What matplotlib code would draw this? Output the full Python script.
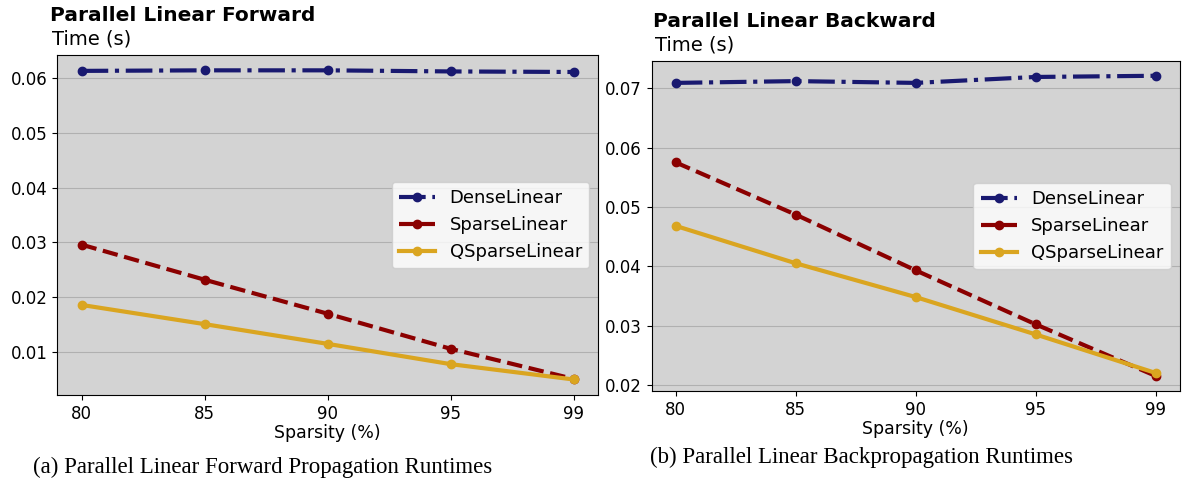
import matplotlib.pyplot as plt

sparsity = ['80', '85', '90', '95', '99']

fwd_dense = [0.0613, 0.0614, 0.0614, 0.0612, 0.0611]
fwd_sparse = [0.0296, 0.0232, 0.0170, 0.0106, 0.0051]
fwd_qsparse = [0.0186, 0.0151, 0.0115, 0.0078, 0.0050]

bwd_dense = [0.0709, 0.0712, 0.0709, 0.0719, 0.0721]
bwd_sparse = [0.0575, 0.0487, 0.0393, 0.0302, 0.0215]
bwd_qsparse = [0.0468, 0.0405, 0.0348, 0.0285, 0.0220]

fig = plt.figure(figsize=(11.87, 4.9), dpi=100)
ax1 = fig.add_axes([0.048, 0.194, 0.456, 0.694])
ax2 = fig.add_axes([0.549, 0.202, 0.445, 0.674])


def draw(ax, dense, sparse, qsparse, title, caption, cx, cy, tdx):
    x = range(len(sparsity))
    ax.set_facecolor('lightgrey')
    ax.grid(axis='y', color='#b0b0b0', linewidth=0.8)
    ax.set_axisbelow(True)
    ax.plot(x, dense, color='midnightblue', linestyle='-.', marker='o', lw=3, ms=6, label='DenseLinear')
    ax.plot(x, sparse, color='darkred', linestyle='--', marker='o', lw=3, ms=6, label='SparseLinear')
    ax.plot(x, qsparse, color='goldenrod', linestyle='-', marker='o', lw=3, ms=6, label='QSparseLinear')
    ax.set_xticks(list(x))
    ax.set_xticklabels(sparsity)
    ax.tick_params(labelsize=12)
    ax.set_xlabel('Sparsity (%)', fontsize=12.5, labelpad=1)
    ax.legend(loc='center right', fontsize=13, facecolor='white')
    # two-line title: bold name, then the unit
    ax.annotate('Time (s)', xy=(0, 1), xycoords='axes fraction', xytext=(tdx + 2, 10),
                textcoords='offset pixels', ha='left', va='baseline', fontsize=14)
    ax.annotate(title, xy=(0, 1), xycoords='axes fraction', xytext=(tdx, 34),
                textcoords='offset pixels', ha='left', va='baseline',
                fontsize=14.5, fontweight='bold')
    fig.text(cx, cy, caption, ha='center', va='baseline', fontsize=16.5, family='Liberation Serif')


draw(ax1, fwd_dense, fwd_sparse, fwd_qsparse, 'Parallel Linear Forward',
     '(a) Parallel Linear Forward Propagation Runtimes', 0.221, 0.035, -7)
draw(ax2, bwd_dense, bwd_sparse, bwd_qsparse, 'Parallel Linear Backward',
     '(b) Parallel Linear Backpropagation Runtimes', 0.726, 0.055, 1)

fig.savefig('out.png')
